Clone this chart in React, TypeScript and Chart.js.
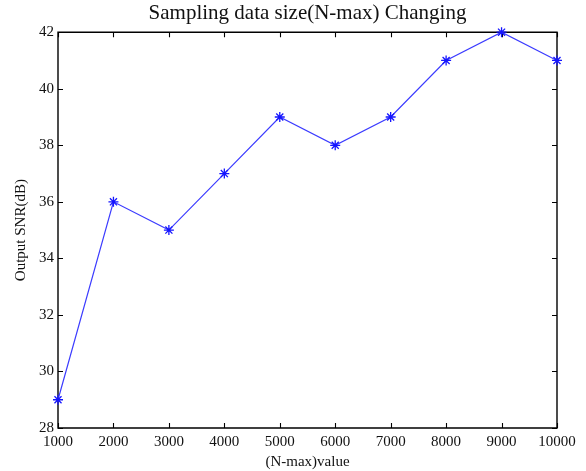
import React, { useEffect, useRef } from "react";
import { Chart, registerables } from "chart.js";

Chart.register(...registerables);

const nMaxValues = [1000, 2000, 3000, 4000, 5000, 6000, 7000, 8000, 9000, 10000];
const snrValues = [29, 36, 35, 37, 39, 38, 39, 41, 42, 41];
const titleText = "Sampling data size(N-max) Changing";
const xAxisTitle = "(N-max)value";
const yAxisTitle = "Output SNR(dB)";

const FONT = "'Liberation Serif', 'Times New Roman', serif";
const LINE = "#3b3bff";

const boxTicks = {
  id: "boxTicks",
  beforeDatasetsDraw(chart: any) {
    const { ctx, chartArea, scales } = chart;
    const { left, right, top, bottom } = chartArea;
    const len = 5;
    ctx.save();
    ctx.strokeStyle = "#000";
    ctx.lineWidth = 1.4;
    ctx.beginPath();
    ctx.rect(left, top, right - left, bottom - top);
    ctx.stroke();
    ctx.lineWidth = 1.1;
    ctx.beginPath();
    scales.x.ticks.forEach((t: any) => {
      const px = Math.round(scales.x.getPixelForValue(t.value)) + 0.5;
      ctx.moveTo(px, bottom);
      ctx.lineTo(px, bottom - len);
      ctx.moveTo(px, top);
      ctx.lineTo(px, top + len);
    });
    scales.y.ticks.forEach((t: any) => {
      const py = Math.round(scales.y.getPixelForValue(t.value)) + 0.5;
      ctx.moveTo(left, py);
      ctx.lineTo(left + len, py);
      ctx.moveTo(right, py);
      ctx.lineTo(right - len, py);
    });
    ctx.stroke();
    ctx.restore();
  },
};

export default function App() {
  const ref = useRef<HTMLCanvasElement>(null);
  useEffect(() => {
    if (!ref.current) return;
    const chart = new Chart(ref.current, {
      type: "line",
      data: {
        datasets: [
          {
            data: nMaxValues.map((x, i) => ({ x, y: snrValues[i] })),
            borderColor: LINE,
            backgroundColor: LINE,
            borderWidth: 1.2,
            pointStyle: "star",
            pointRadius: 5,
            pointBorderWidth: 1.3,
            pointBorderColor: "#1515ff",
            tension: 0,
            fill: false,
            clip: false,
          },
        ],
      },
      options: {
        animation: false,
        responsive: false,
        layout: { padding: { left: 0, right: 29, top: 0, bottom: 0 } },
        plugins: {
          legend: { display: false },
          tooltip: { enabled: false },
          title: {
            display: true,
            text: titleText,
            fullSize: false,
            color: "#111",
            font: { family: FONT, size: 21, weight: "normal" },
            padding: { top: 1, bottom: 6 },
          },
        },
        scales: {
          x: {
            type: "linear",
            min: 1000,
            max: 10000,
            grid: { display: false, drawTicks: false },
            border: { display: false },
            ticks: {
              stepSize: 1000,
              padding: 5,
              color: "#111",
              maxRotation: 0,
              autoSkip: false,
              font: { family: FONT, size: 15 },
              callback: (v: any) => String(v),
            },
            title: {
              display: true,
              text: xAxisTitle,
              color: "#111",
              font: { family: FONT, size: 15 },
              padding: { top: 0, bottom: 0 },
            },
            afterFit: (s: any) => {
              s.height = 43;
            },
          },
          y: {
            min: 28,
            max: 42,
            grid: { display: false, drawTicks: false },
            border: { display: false },
            ticks: {
              stepSize: 2,
              padding: 4,
              color: "#111",
              font: { family: FONT, size: 15 },
            },
            title: {
              display: true,
              text: yAxisTitle,
              color: "#111",
              font: { family: FONT, size: 15 },
              padding: { top: 12, bottom: 0 },
            },
            afterFit: (s: any) => {
              s.width = 58;
            },
          },
        },
      },
      plugins: [boxTicks],
    });
    return () => chart.destroy();
  }, []);
  return (
    <div style={{ position: "fixed", left: 0, top: 0, width: 586, height: 471, background: "#fff" }}>
      <canvas ref={ref} width={586} height={471} style={{ width: 586, height: 471 }} />
    </div>
  );
}
